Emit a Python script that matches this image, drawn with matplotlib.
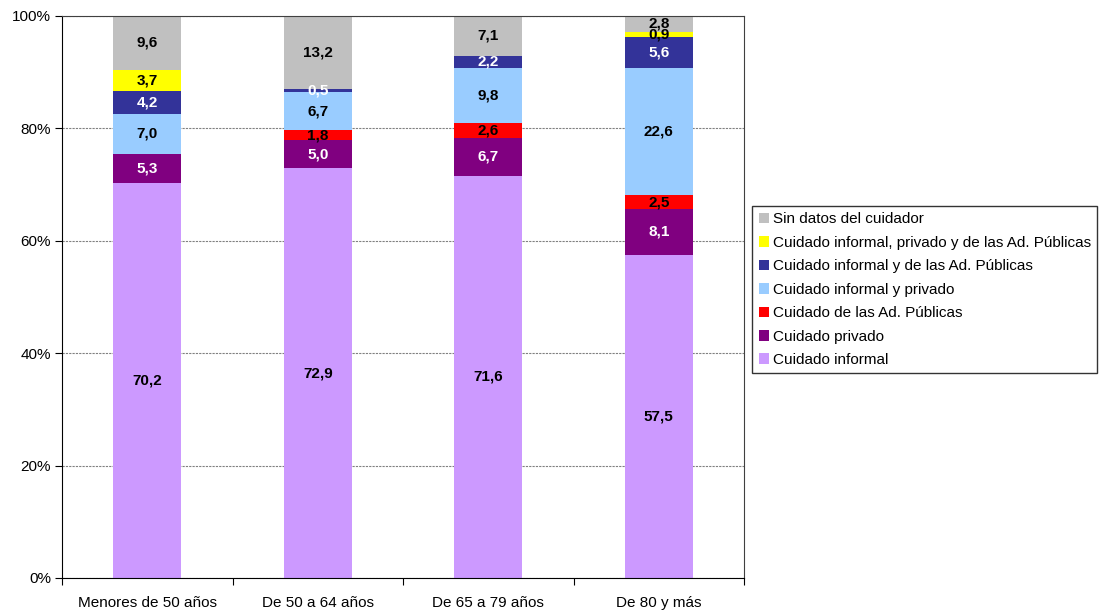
import matplotlib.pyplot as plt
from matplotlib.ticker import FuncFormatter

plt.rcParams['font.family'] = ['Liberation Sans', 'DejaVu Sans']

categories = ['Menores de 50 años', 'De 50 a 64 años', 'De 65 a 79 años', 'De 80 y más']

series_names = ['Cuidado informal', 'Cuidado privado', 'Cuidado de las Ad. Públicas',
                'Cuidado informal y privado', 'Cuidado informal y de las Ad. Públicas',
                'Cuidado informal, privado y de las Ad. Públicas', 'Sin datos del cuidador']
informal = [70.2, 72.9, 71.6, 57.5]
privado = [5.3, 5.0, 6.7, 8.1]
ad_publicas = [0.0, 1.8, 2.6, 2.5]
inf_privado = [7.0, 6.7, 9.8, 22.6]
inf_adpub = [4.2, 0.5, 2.2, 5.6]
inf_priv_adpub = [3.7, 0.0, 0.0, 0.9]
sin_datos = [9.6, 13.2, 7.1, 2.8]

series = [informal, privado, ad_publicas, inf_privado, inf_adpub, inf_priv_adpub, sin_datos]
colors = ['#cc99ff', '#800080', '#ff0000', '#99ccff', '#333399', '#ffff00', '#c0c0c0']
text_colors = ['black', 'white', 'black', 'black', 'white', 'black', 'black']

fig = plt.figure(figsize=(11, 6.1), dpi=100)
ax = fig.add_axes([0.0564, 0.0525, 0.62, 0.9215])

x = range(len(categories))
bottom = [0.0] * len(categories)
for name, vals, col, tcol in zip(series_names, series, colors, text_colors):
    ax.bar(x, vals, 0.4, bottom=bottom, color=col, label=name, zorder=2)
    for i, v in enumerate(vals):
        if v > 0:
            ax.text(i, bottom[i] + v / 2, f'{v:.1f}'.replace('.', ','),
                    ha='center', va='center', fontsize=11, fontweight='bold',
                    color=tcol, zorder=3)
    bottom = [b + v for b, v in zip(bottom, vals)]

ax.set_xlim(-0.5, 3.5)
ax.set_ylim(0, 100)
ax.set_yticks([0, 20, 40, 60, 80, 100])
ax.yaxis.set_major_formatter(FuncFormatter(lambda v, p: f'{v:.0f}%'))
ax.set_xticks([-0.5, 0.5, 1.5, 2.5, 3.5])
ax.set_xticklabels([])
ax.set_xticks(list(x), minor=True)
ax.set_xticklabels(categories, minor=True)
ax.tick_params(axis='x', which='minor', length=0, pad=13, labelsize=11)
ax.tick_params(axis='x', which='major', length=5, direction='out', color='black')
ax.tick_params(axis='y', length=5, direction='out', labelsize=11, pad=3)
ax.grid(axis='y', color='#808080', linestyle=(0, (2, 1)), linewidth=0.8, zorder=0)

for s in ['top', 'right']:
    ax.spines[s].set_color('#404040')
for s in ['left', 'bottom']:
    ax.spines[s].set_color('black')

handles, labels = ax.get_legend_handles_labels()
leg = fig.legend(handles[::-1], labels[::-1], loc='center left',
                 bbox_to_anchor=(0.684, 0.525), fontsize=11, frameon=True,
                 fancybox=False, edgecolor='black', handlelength=0.7,
                 handleheight=0.7, handletextpad=0.25, labelspacing=0.62,
                 borderpad=0.4, borderaxespad=0)
leg.get_frame().set_linewidth(1.0)

fig.savefig('out.png', dpi=100)
